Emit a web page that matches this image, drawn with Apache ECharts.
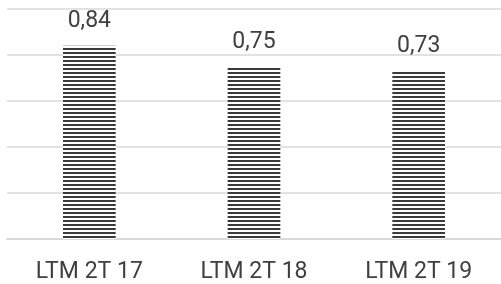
<!DOCTYPE html>
<html>
<head>
<meta charset="utf-8">
<script src="https://cdn.jsdelivr.net/npm/echarts@6/dist/echarts.min.js"></script>
<style>
  html, body { margin: 0; padding: 0; background: #fff; }
  #chart { width: 501px; height: 284px; }
</style>
</head>
<body>
<div id="chart"></div>
<script>
// periodi e valori
const categories = ['LTM 2T 17', 'LTM 2T 18', 'LTM 2T 19'];
const values = [0.84, 0.75, 0.73];

// trama a righe orizzontali per le barre
const makeStripes = () => {
  const c = document.createElement('canvas');
  c.width = 8;
  c.height = 4;
  const ctx = c.getContext('2d');
  ctx.fillStyle = '#ffffff';
  ctx.fillRect(0, 0, 8, 4);
  ctx.fillStyle = '#3a3a3a';
  ctx.fillRect(0, 0, 8, 2);
  return c;
};

const chart = echarts.init(document.getElementById('chart'));
chart.setOption({
  animation: false,
  grid: { left: 7, right: -5, top: 9, bottom: 44, containLabel: false },
  xAxis: {
    type: 'category',
    data: categories,
    axisLine: { show: true, lineStyle: { color: '#d9d9d9', width: 2 } },
    axisTick: { show: false },
    axisLabel: {
      color: '#404040',
      fontFamily: 'Roboto',
      fontSize: 23,
      margin: 22
    }
  },
  yAxis: {
    type: 'value',
    min: 0,
    max: 1,
    interval: 0.2,
    axisLabel: { show: false },
    axisLine: { show: false },
    axisTick: { show: false },
    splitLine: { lineStyle: { color: '#d9d9d9', width: 1.5 } }
  },
  series: [{
    type: 'bar',
    data: values,
    barWidth: '32%',
    itemStyle: {
      color: { image: makeStripes(), repeat: 'repeat' }
    },
    label: {
      show: true,
      position: 'top',
      distance: 13,
      color: '#404040',
      fontFamily: 'Roboto',
      fontSize: 23,
      formatter: p => p.value.toFixed(2).replace('.', ',')
    }
  }]
});
</script>
</body>
</html>
